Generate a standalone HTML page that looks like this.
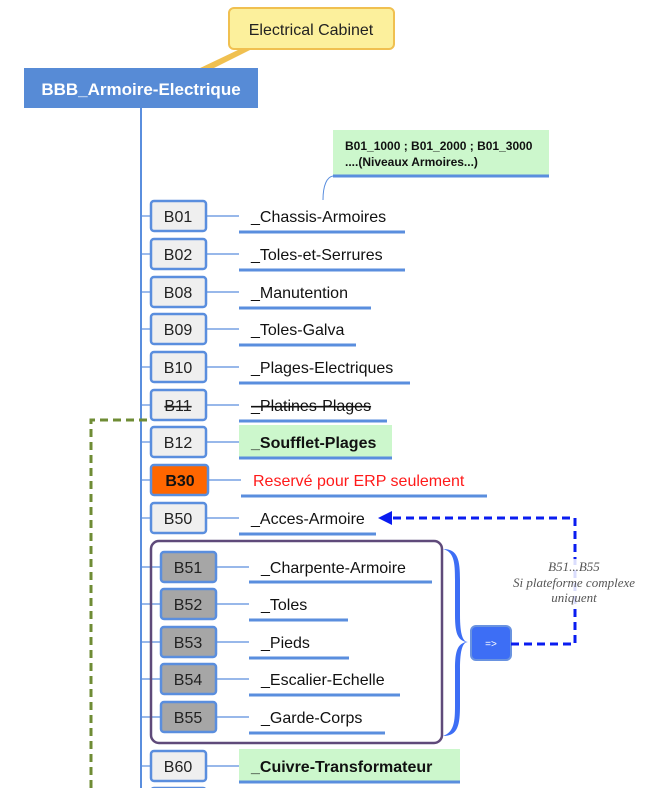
<!DOCTYPE html>
<html><head><meta charset="utf-8"><style>
html,body{margin:0;padding:0;background:#fff;}
svg{display:block;font-family:"Liberation Sans",sans-serif;}
</style></head><body>
<svg width="655" height="788" viewBox="0 0 655 788" xmlns="http://www.w3.org/2000/svg">
<!-- callout -->
<polygon points="198,69 212,69 252,49 240,49" fill="#f0c050"/>
<rect x="229" y="8" width="165" height="41" rx="5" fill="#fcf09c" stroke="#f0c050" stroke-width="2"/>
<text x="311" y="35" font-size="16" text-anchor="middle" fill="#222">Electrical Cabinet</text>
<!-- root -->
<rect x="24" y="68" width="234" height="40" fill="#578bd6"/>
<text x="141" y="95" font-size="17" font-weight="bold" fill="#fff" text-anchor="middle">BBB_Armoire-Electrique</text>
<!-- trunk -->
<line x1="141" y1="108" x2="141" y2="788" stroke="#5a8ede" stroke-width="2"/>
<!-- green dashed -->
<polyline points="91,788 91,420 151,420" fill="none" stroke="#6f8c35" stroke-width="3" stroke-dasharray="8,5"/>
<!-- note -->
<rect x="333" y="130" width="216" height="46" fill="#ccf7cc"/>
<line x1="333" y1="176" x2="549" y2="176" stroke="#5a8ede" stroke-width="3"/>
<text x="345" y="150" font-size="12" font-weight="bold" fill="#111">B01_1000 ; B01_2000 ; B01_3000</text>
<text x="345" y="166" font-size="12" font-weight="bold" fill="#111">....(Niveaux Armoires...)</text>
<path d="M323,200 C323,185 327,177 333,176" fill="none" stroke="#5a8ede" stroke-width="1"/>

<g font-size="16" fill="#111">
<!-- rows -->
<g id="rows">
</g>
</g>
<!-- Row template: connectors -->
<g stroke="#5a8ede" stroke-width="1.2">
<line x1="141" y1="216" x2="151" y2="216"/><line x1="206" y1="216" x2="239" y2="216"/>
<line x1="141" y1="254" x2="151" y2="254"/><line x1="206" y1="254" x2="239" y2="254"/>
<line x1="141" y1="292" x2="151" y2="292"/><line x1="206" y1="292" x2="239" y2="292"/>
<line x1="141" y1="329" x2="151" y2="329"/><line x1="206" y1="329" x2="239" y2="329"/>
<line x1="141" y1="367" x2="151" y2="367"/><line x1="206" y1="367" x2="239" y2="367"/>
<line x1="141" y1="405" x2="151" y2="405"/><line x1="206" y1="405" x2="239" y2="405"/>
<line x1="141" y1="442" x2="151" y2="442"/><line x1="206" y1="442" x2="239" y2="442"/>
<line x1="141" y1="480" x2="151" y2="480"/><line x1="208" y1="480" x2="241" y2="480"/>
<line x1="141" y1="518" x2="151" y2="518"/><line x1="206" y1="518" x2="239" y2="518"/>
<line x1="141" y1="567" x2="161" y2="567"/><line x1="216" y1="567" x2="249" y2="567"/>
<line x1="141" y1="604" x2="161" y2="604"/><line x1="216" y1="604" x2="249" y2="604"/>
<line x1="141" y1="642" x2="161" y2="642"/><line x1="216" y1="642" x2="249" y2="642"/>
<line x1="141" y1="679" x2="161" y2="679"/><line x1="216" y1="679" x2="249" y2="679"/>
<line x1="141" y1="717" x2="161" y2="717"/><line x1="216" y1="717" x2="249" y2="717"/>
<line x1="141" y1="766" x2="151" y2="766"/><line x1="206" y1="766" x2="239" y2="766"/>
</g>
<!-- green backgrounds -->
<rect x="239" y="425" width="153" height="32" fill="#ccf7cc"/>
<rect x="239" y="749" width="221" height="32" fill="#ccf7cc"/>
<!-- boxes -->
<g stroke="#5a8ede" stroke-width="2.5" fill="#efefef">
<rect x="151" y="201" width="55" height="30" rx="3"/>
<rect x="151" y="239" width="55" height="30" rx="3"/>
<rect x="151" y="277" width="55" height="30" rx="3"/>
<rect x="151" y="314" width="55" height="30" rx="3"/>
<rect x="151" y="352" width="55" height="30" rx="3"/>
<rect x="151" y="390" width="55" height="30" rx="3"/>
<rect x="151" y="427" width="55" height="30" rx="3"/>
<rect x="151" y="465" width="57" height="30" rx="3" fill="#ff6600"/>
<rect x="151" y="503" width="55" height="30" rx="3"/>
<rect x="161" y="552" width="55" height="30" rx="3" fill="#a6a6a6"/>
<rect x="161" y="589" width="55" height="30" rx="3" fill="#a6a6a6"/>
<rect x="161" y="627" width="55" height="30" rx="3" fill="#a6a6a6"/>
<rect x="161" y="664" width="55" height="30" rx="3" fill="#a6a6a6"/>
<rect x="161" y="702" width="55" height="30" rx="3" fill="#a6a6a6"/>
<rect x="151" y="751" width="55" height="30" rx="3"/>
<rect x="151" y="788" width="55" height="30" rx="3"/>
</g>
<g font-size="16" fill="#222" text-anchor="middle">
<text x="178" y="222">B01</text><text x="178" y="260">B02</text><text x="178" y="298">B08</text>
<text x="178" y="335">B09</text><text x="178" y="373">B10</text>
<text x="178" y="411" text-decoration="line-through">B11</text>
<text x="178" y="448">B12</text>
<text x="180" y="486" font-weight="bold" fill="#111">B30</text>
<text x="178" y="524">B50</text>
<text x="188" y="573">B51</text><text x="188" y="610">B52</text><text x="188" y="648">B53</text>
<text x="188" y="685">B54</text><text x="188" y="723">B55</text>
<text x="178" y="772">B60</text>
</g>
<!-- labels -->
<g font-size="16" fill="#111">
<text x="251" y="222">_Chassis-Armoires</text>
<text x="251" y="260">_Toles-et-Serrures</text>
<text x="251" y="298">_Manutention</text>
<text x="251" y="335">_Toles-Galva</text>
<text x="251" y="373">_Plages-Electriques</text>
<text x="251" y="411" text-decoration="line-through">_Platines-Plages</text>
<text x="251" y="448" font-weight="bold">_Soufflet-Plages</text>
<text x="253" y="486" fill="#ff1a1a">Reservé pour ERP seulement</text>
<text x="251" y="524">_Acces-Armoire</text>
<text x="261" y="573">_Charpente-Armoire</text>
<text x="261" y="610">_Toles</text>
<text x="261" y="648">_Pieds</text>
<text x="261" y="685">_Escalier-Echelle</text>
<text x="261" y="723">_Garde-Corps</text>
<text x="251" y="772" font-weight="bold">_Cuivre-Transformateur</text>
</g>
<!-- underlines -->
<g stroke="#5a8ede" stroke-width="3">
<line x1="239" y1="232" x2="405" y2="232"/>
<line x1="239" y1="270" x2="405" y2="270"/>
<line x1="239" y1="308" x2="371" y2="308"/>
<line x1="239" y1="345" x2="356" y2="345"/>
<line x1="239" y1="383" x2="410" y2="383"/>
<line x1="239" y1="421" x2="387" y2="421"/>
<line x1="239" y1="458" x2="392" y2="458"/>
<line x1="241" y1="496" x2="487" y2="496"/>
<line x1="239" y1="534" x2="376" y2="534"/>
<line x1="249" y1="582" x2="432" y2="582"/>
<line x1="249" y1="620" x2="348" y2="620"/>
<line x1="249" y1="658" x2="349" y2="658"/>
<line x1="249" y1="695" x2="400" y2="695"/>
<line x1="249" y1="733" x2="385" y2="733"/>
<line x1="239" y1="782" x2="460" y2="782"/>
</g>
<!-- group box -->
<rect x="151" y="541" width="291" height="202" rx="8" fill="none" stroke="#5f4a7a" stroke-width="2.5"/>
<!-- brace -->
<path d="M443,549 C458,549 460,560 460,580 L460,615 C460,635 463,642 468,642 C463,642 460,649 460,669 L460,705 C460,725 458,736 443,736 C454,732 455,722 455,705 L455,669 C455,650 458,644 466,642 C458,640 455,634 455,615 L455,580 C455,562 454,552 443,549 Z" fill="#3d6ef5"/>
<!-- button -->
<rect x="471" y="626" width="40" height="34" rx="5" fill="#3d6ef5" stroke="#6a93e0" stroke-width="2"/>
<text x="491" y="647" font-size="10" fill="#fff" text-anchor="middle">=&gt;</text>
<!-- blue dashed -->
<polyline points="511,644 575,644 575,518 388,518" fill="none" stroke="#0a1cf0" stroke-width="3" stroke-dasharray="8,5"/>
<polygon points="378,518 392,511 392,525" fill="#0a1cf0"/>
<rect x="515" y="559" width="135" height="46" fill="#fff" opacity="0.85"/>
<g font-family="'Liberation Serif',serif" font-style="italic" font-size="13" fill="#555" text-anchor="middle">
<text x="574" y="571">B51...B55</text>
<text x="574" y="587">Si plateforme complexe</text>
<text x="574" y="602">uniquent</text>
</g>
</svg>
</body></html>
